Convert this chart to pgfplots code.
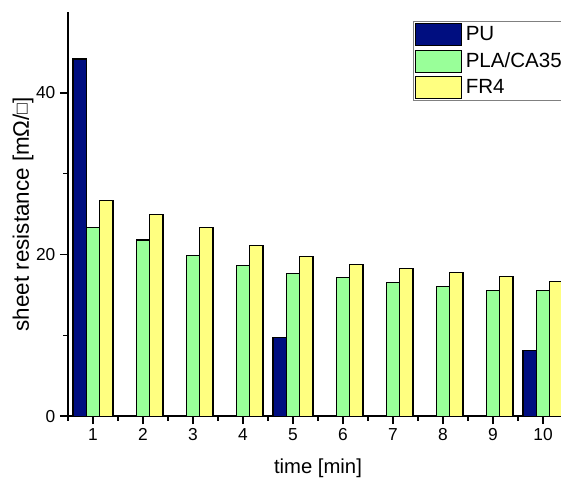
\documentclass[border=0pt]{standalone}
\usepackage{pgfplots}
\pgfplotsset{compat=1.18}
\usepackage{fontspec}
\setmainfont{Liberation Sans}
\definecolor{puBlue}{RGB}{0,14,128}
\definecolor{plaGreen}{RGB}{153,255,153}
\definecolor{frYellow}{RGB}{255,255,128}
\begin{document}
\begin{tikzpicture}
\begin{axis}[
  scale only axis,
  width=375pt, height=303pt,
  xmin=0.5, xmax=10.5, ymin=0, ymax=50,
  axis x line*=bottom, axis y line*=left,
  axis line style={line width=1pt},
  xtick={1,...,10}, minor xtick={0.5,1.5,...,10.5},
  ytick={0,20,40}, minor ytick={10,30},
  tick align=outside,
  major tick length=6pt, minor tick length=3.5pt,
  every tick/.style={black, line width=1pt},
  xticklabel style={font=\fontsize{13}{14}\selectfont},
  yticklabel style={font=\fontsize{13}{14}\selectfont},
  /pgf/number format/assume math mode=true,
  xlabel={time [min]}, ylabel={sheet resistance [mΩ/\raisebox{0.05em}{\scalebox{0.8}{□}}]},
  xlabel style={font=\fontsize{15.2}{17}\selectfont, at={(axis description cs:0.5,-0.13)}, anchor=center},
  ylabel style={font=\fontsize{16.8}{18}\selectfont, at={(axis description cs:-0.09,0.5)}, anchor=center},
  ybar, bar width=0.267,
  clip=false,
  legend cell align=left,
  legend style={at={(axis cs:7.4,48.9)}, anchor=north west,
    draw=gray, line width=0.6pt, font=\fontsize{15.4}{16}\selectfont,
    inner sep=1.5pt, row sep=2.5pt,
    nodes={inner xsep=3pt, inner ysep=1pt}},
  legend image code/.code={\draw[#1, line width=0.8pt] (0pt,-8.2pt) rectangle (34pt,8.2pt);},
]
\addplot[draw=black, fill=puBlue, bar shift=-0.267, line width=0.8pt] coordinates {(1,44.2) (5,9.7) (10,8.1)};
\addplot[draw=black, fill=plaGreen, bar shift=0, line width=0.8pt] coordinates {
  (1,23.4) (2,21.8) (3,19.9) (4,18.6) (5,17.7) (6,17.1) (7,16.5) (8,16.0) (9,15.6) (10,15.5)};
\addplot[draw=black, fill=frYellow, bar shift=0.267, line width=0.8pt] coordinates {
  (1,26.7) (2,25.0) (3,23.4) (4,21.1) (5,19.8) (6,18.8) (7,18.3) (8,17.8) (9,17.3) (10,16.7)};
\legend{PU, PLA/CA35, FR4}
\coordinate (bbl) at (axis cs:-0.86,-7.55);
\coordinate (btr) at (axis cs:10.36,51.5);
\end{axis}
\pgfresetboundingbox
\path[use as bounding box] (bbl) rectangle (btr);
\end{tikzpicture}
\end{document}
